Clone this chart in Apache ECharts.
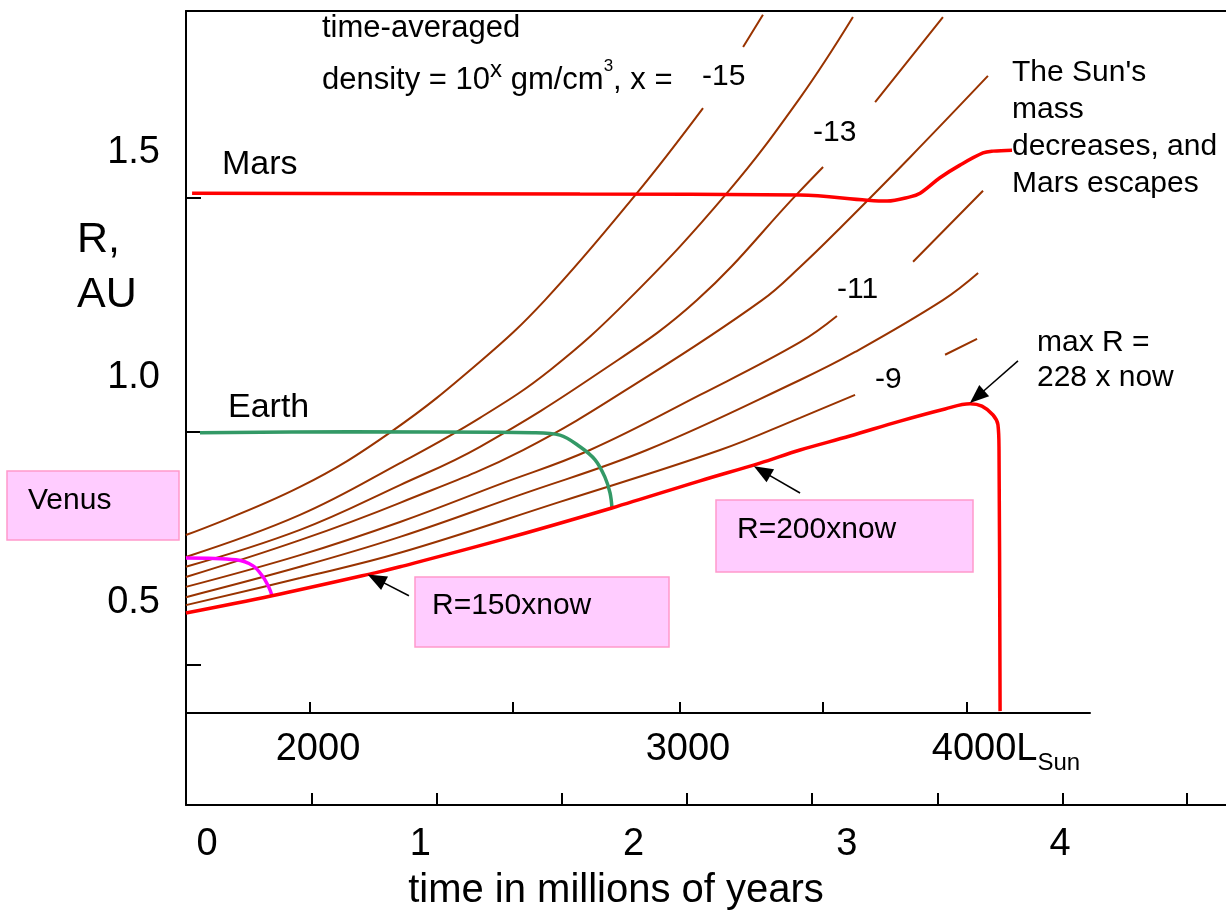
<!DOCTYPE html>
<html>
<head>
<meta charset="utf-8">
<script src="https://cdn.jsdelivr.net/npm/echarts@6/dist/echarts.min.js"></script>
<style>
  html, body { margin: 0; padding: 0; background: #ffffff; }
  #chart { width: 1226px; height: 916px; }
</style>
</head>
<body>
<div id="chart"></div>
<script>
// ---- axes ----
const timeLabels = [0, 1, 2, 3, 4];                       // Myr
const timeMinorTicks = [0.492, 1.078, 1.664, 2.250, 2.836, 3.427, 4.013, 4.594];
const radiusTicks = [0.5, 1.0, 1.5];                      // AU
const lumValues = [2000, 2500, 3000, 3500, 4000];         // L_Sun
const lumTimes = [0.483, 1.435, 2.218, 2.889, 3.564];     // time at which the Sun reaches each luminosity
const lumLabelled = [2000, 3000, 4000];

// ---- curves: [time (Myr), R (AU)] ----
const sunRadius = [[-0.099, 0.611], [0.305, 0.648], [0.788, 0.697], [0.905, 0.710], [1.374, 0.767],
  [1.899, 0.836], [2.312, 0.894], [2.593, 0.932], [2.781, 0.960], [3.015, 0.990], [3.250, 1.022],
  [3.461, 1.048], [3.578, 1.059], [3.634, 1.054], [3.686, 1.035], [3.709, 1.014], [3.714, 0.960],
  [3.719, 0.401]];
const marsOrbit = [[-0.070, 1.510], [1.749, 1.508], [2.781, 1.506], [3.095, 1.495], [3.189, 1.493],
  [3.297, 1.502], [3.344, 1.510], [3.437, 1.543], [3.531, 1.570], [3.639, 1.596], [3.686, 1.600],
  [3.775, 1.602]];
const earthOrbit = [[-0.033, 0.997], [0.671, 0.999], [1.529, 0.997], [1.655, 0.992], [1.749, 0.967],
  [1.820, 0.939], [1.866, 0.902], [1.890, 0.868], [1.899, 0.836]];
const venusOrbit = [[-0.099, 0.729], [0.136, 0.725], [0.216, 0.712], [0.263, 0.688], [0.291, 0.665],
  [0.305, 0.648]];

// orbits at constant time-averaged density 10^x g/cm^3 (null = break for the label)
const densM15 = [[-0.099, 0.778], [0.436, 0.881], [0.863, 0.999], [1.280, 1.149], [1.585, 1.281],
  [2.016, 1.510], [2.326, 1.692], null, [2.514, 1.823], [2.607, 1.892]];
const densM14 = [[-0.099, 0.731], [0.436, 0.821], [0.905, 0.932], [1.280, 1.029], [1.608, 1.131],
  [1.974, 1.281], [2.438, 1.510], [2.781, 1.714], [3.029, 1.887]];
const densM13 = [[-0.099, 0.710], [0.436, 0.789], [0.905, 0.885], [1.280, 0.967], [1.843, 1.127],
  [2.298, 1.281], [2.771, 1.510], [2.889, 1.566], null, [3.133, 1.705], [3.451, 1.887]];
const densM12 = [[-0.099, 0.688], [0.436, 0.767], [0.905, 0.847], [1.482, 0.960], [2.077, 1.121],
  [2.603, 1.281], [2.781, 1.352], [2.968, 1.435], [3.297, 1.587], [3.662, 1.761]];
const densM11 = [[-0.099, 0.667], [0.436, 0.735], [0.905, 0.806], [1.374, 0.887], [1.796, 0.960],
  [2.312, 1.078], [2.781, 1.191], [2.954, 1.247], null, [3.311, 1.363], [3.639, 1.515]];
const densM10 = [[-0.099, 0.645], [0.436, 0.710], [0.905, 0.774], [1.468, 0.864], [2.063, 0.960],
  [2.781, 1.110], [3.039, 1.170], [3.451, 1.281], [3.616, 1.339]];
const densM9 = [[-0.099, 0.628], [0.436, 0.686], [0.905, 0.740], [1.655, 0.849], [2.406, 0.960],
  [2.781, 1.029], [3.039, 1.078], null, [3.461, 1.164], [3.611, 1.198]];
const densityCurves = [densM15, densM14, densM13, densM12, densM11, densM10, densM9];

const FONT = '"Liberation Sans", Arial, Helvetica, sans-serif';
const BROWN = '#993300';
const BOX_FILL = '#FFCCFF';
const BOX_EDGE = '#FF99CC';

const chart = echarts.init(document.getElementById('chart'), null, { renderer: 'canvas' });

function lineSeries(name, data, color, width, smooth) {
  return {
    name, type: 'line', xAxisIndex: 0, yAxisIndex: 0,
    data: data.map(p => p === null ? [null, null] : p),
    showSymbol: false, symbol: 'none', smooth: smooth, connectNulls: false,
    silent: true, z: 3,
    lineStyle: { color, width }
  };
}

const series = densityCurves.map((c, i) => lineSeries('density ' + (-15 + i), c, BROWN, 2, 0.4));
series.push(lineSeries('Earth', earthOrbit, '#339966', 3.5, 0.35));
series.push(lineSeries('Venus', venusOrbit, '#FF00FF', 3.5, 0.35));
series.push(lineSeries('Mars', marsOrbit, '#FF0000', 3.5, 0.35));
const sunSeries = lineSeries('Sun radius', sunRadius, '#FF0000', 3.5, 0.35);
sunSeries.markLine = {
  silent: true, animation: false,
  symbol: ['none', 'triangle'], symbolSize: [15, 19],
  label: { show: false },
  lineStyle: { color: '#000000', width: 1.5, type: 'solid' },
  data: [
    [{ coord: [0.947, 0.648] }, { coord: [0.793, 0.684] }],
    [{ coord: [2.781, 0.868] }, { coord: [2.603, 0.915] }],
    [{ coord: [3.803, 1.151] }, { coord: [3.611, 1.074] }]
  ]
};
series.push(sunSeries);

const axisLine = { show: true, onZero: false, lineStyle: { color: '#000000', width: 2 } };
const lumIndex = v => lumTimes.findIndex(t => Math.abs(t - v) < 1e-6);

const text = (x, y, str, size, extra) => ({
  type: 'text', x, y, z: 10, silent: true,
  style: Object.assign({ text: str, fontSize: size, fontFamily: FONT, fill: '#000000',
    align: 'left', verticalAlign: 'middle' }, extra || {})
});
const box = (x, y, w, h) => ({
  type: 'rect', z: 9, silent: true,
  shape: { x, y, width: w, height: h },
  style: { fill: BOX_FILL, stroke: BOX_EDGE, lineWidth: 1.5 }
});

const option = {
  animation: false,
  backgroundColor: '#ffffff',
  textStyle: { fontFamily: FONT },
  grid: [
    { left: 186, top: 11, width: 1040, height: 794, containLabel: false, outerBoundsMode: 'none' },
    { left: 186, top: 11, width: 904, height: 702, containLabel: false, outerBoundsMode: 'none' }
  ],
  xAxis: [
    { // time axis
      type: 'value', gridIndex: 0, position: 'bottom', min: -0.0985, max: 4.7784,
      axisLine,
      axisTick: { show: true, inside: true, length: 12, customValues: timeMinorTicks,
        lineStyle: { color: '#000000', width: 2 } },
      axisLabel: { show: true, customValues: timeLabels, fontSize: 38, color: '#000000',
        margin: 21, formatter: v => String(Math.round(v)) },
      splitLine: { show: false },
      name: 'time in millions of years', nameLocation: 'middle', nameGap: 66,
      nameTextStyle: { fontSize: 40, color: '#000000', padding: [0, 180, 0, 0] }
    },
    { // top frame
      type: 'value', gridIndex: 0, position: 'top', min: -0.0985, max: 4.7784,
      axisLine, axisTick: { show: false }, axisLabel: { show: false }, splitLine: { show: false }
    },
    { // solar luminosity axis
      type: 'value', gridIndex: 1, position: 'bottom', min: -0.0985, max: 4.1407,
      axisLine,
      axisTick: { show: true, inside: true, length: 11, customValues: lumTimes,
        lineStyle: { color: '#000000', width: 2 } },
      axisLabel: {
        show: true, margin: 12, color: '#000000',
        customValues: lumLabelled.map(L => lumTimes[lumValues.indexOf(L)]),
        formatter: v => {
          const i = lumIndex(v);
          if (i === lumValues.length - 1) return '{w|' + lumValues[i] + '}{a|L}{s|Sun}';
          return '{n|' + lumValues[i] + '}';
        },
        rich: {
          n: { fontSize: 38, lineHeight: 50, padding: [0, 0, 0, 16], fontFamily: FONT, color: '#000' },
          w: { fontSize: 38, lineHeight: 50, padding: [0, 0, 0, 78], fontFamily: FONT, color: '#000' },
          a: { fontSize: 38, lineHeight: 50, fontFamily: FONT, color: '#000' },
          s: { fontSize: 24, lineHeight: 22, verticalAlign: 'bottom', fontFamily: FONT, color: '#000' }
        }
      },
      splitLine: { show: false }
    }
  ],
  yAxis: [
    { // radius (AU)
      type: 'value', gridIndex: 0, position: 'left', min: 0.2, max: 1.9,
      axisLine,
      axisTick: { show: true, inside: true, length: 15, customValues: radiusTicks,
        lineStyle: { color: '#000000', width: 2 } },
      axisLabel: { show: false }, splitLine: { show: false }
    },
    { // radius labels
      type: 'value', gridIndex: 0, position: 'left', min: 0.0511, max: 1.8156,
      axisLine: { show: false, onZero: false }, axisTick: { show: false }, splitLine: { show: false },
      axisLabel: { show: true, customValues: radiusTicks, fontSize: 38, color: '#000000',
        margin: 26, formatter: v => v.toFixed(1) }
    },
    { type: 'value', gridIndex: 1, min: 0, max: 1, show: false }
  ],
  series,
  graphic: [
    text(77, 268, 'R,\nAU', 43, { lineHeight: 55 }),
    box(7, 471, 172, 69),
    text(28, 501, 'Venus', 30),
    text(222, 165, 'Mars', 34),
    text(228, 408, 'Earth', 34),
    text(322, 28, 'time-averaged', 31),
    text(322, 80, '{n|density = 10}{x|x}{n| gm/cm}{c|3}{n|, x = }', 31, {
      rich: {
        n: { fontSize: 31, lineHeight: 44, fontFamily: FONT, fill: '#000' },
        x: { fontSize: 24, lineHeight: 16, verticalAlign: 'top', fontFamily: FONT, fill: '#000' },
        c: { fontSize: 17, lineHeight: 20, verticalAlign: 'top', fontFamily: FONT, fill: '#000' }
      }
    }),
    text(702, 77, '-15', 30),
    text(813, 133, '-13', 30),
    text(837, 290, '-11', 30),
    text(875, 380, '-9', 30),
    text(1012, 128, "The Sun's\nmass\ndecreases, and\nMars escapes", 30, { lineHeight: 37 }),
    text(1037, 360, 'max R =\n228 x now', 30, { lineHeight: 35 }),
    box(415, 577, 254, 70),
    text(432, 606, 'R=150xnow', 30),
    box(716, 500, 257, 72),
    text(737, 530, 'R=200xnow', 30)
  ]
};

chart.setOption(option);
</script>
</body>
</html>
